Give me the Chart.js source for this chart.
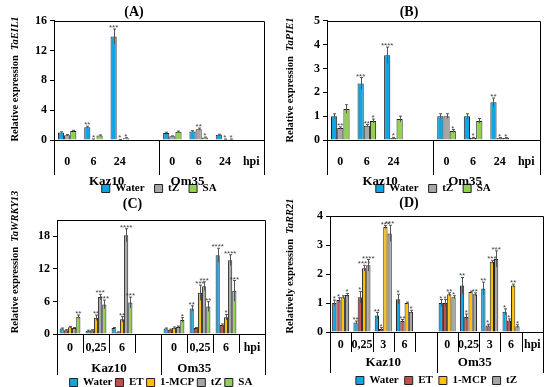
<!DOCTYPE html>
<html>
<head>
<meta charset="utf-8">
<script src="https://cdn.jsdelivr.net/npm/chart.js@4.4.0/dist/chart.umd.min.js"></script>
<style>
  html, body { margin: 0; padding: 0; background: #fff; overflow: hidden; }
  body { width: 550px; height: 387px; position: relative; }
  canvas { position: absolute; }
</style>
</head>
<body>
<canvas id="chartA" width="275" height="204" style="left:0;top:0"></canvas>
<canvas id="chartB" width="275" height="204" style="left:275px;top:0"></canvas>
<canvas id="chartC" width="275" height="208" style="left:0;top:190px"></canvas>
<canvas id="chartD" width="275" height="206" style="left:275px;top:190px"></canvas>
<script>
// ---- (A) TaEIL1 ----
const hpiA = ['0', '6', '24', '', '0', '6', '24', 'hpi'];
const waterA = [1.0, 1.7, 13.9, null, 0.95, 1.15, 0.7, null];
const tzA = [0.65, 0.1, 0.05, null, 0.5, 1.45, 0.1, null];
const saA = [1.2, 0.6, 0.25, null, 1.1, 0.35, 0.1, null];
const waterErrA = [0.1, 0.15, 1.0, null, 0.1, 0.1, 0.08, null];
const tzErrA = [0.08, 0.05, 0.03, null, 0.05, 0.15, 0.03, null];
const saErrA = [0.1, 0.08, 0.05, null, 0.1, 0.05, 0.03, null];
const waterSigA = ['', '**', '***', '', '', '', '', ''];
const tzSigA = ['', '*', '*', '', '', '**', '*', ''];
const saSigA = ['', '', '*', '', '', '*', '*', ''];

// ---- (B) TaPIE1 ----
const hpiB = ['0', '6', '24', '', '0', '6', '24', 'hpi'];
const waterB = [1.0, 2.37, 3.55, null, 1.0, 1.0, 1.58, null];
const tzB = [0.5, 0.6, 0.08, null, 1.0, 0.08, 0.08, null];
const saB = [1.3, 0.8, 0.88, null, 0.38, 0.8, 0.08, null];
const waterErrB = [0.1, 0.25, 0.35, null, 0.1, 0.1, 0.18, null];
const tzErrB = [0.05, 0.05, 0.03, null, 0.1, 0.03, 0.02, null];
const saErrB = [0.18, 0.08, 0.12, null, 0.06, 0.1, 0.02, null];
const waterSigB = ['', '***', '****', '', '', '', '**', ''];
const tzSigB = ['**', '**', '*', '', '', '*', '*', ''];
const saSigB = ['', '*', '', '', '*', '', '*', ''];

// ---- (C) TaWRKY13 ----
const hpiC = ['0', '0,25', '6', '', '0', '0,25', '6', 'hpi'];
const waterC = [1.0, 0.6, 1.1, null, 1.0, 4.7, 14.5, null];
const etC = [0.7, 0.7, 0.3, null, 0.8, 1.1, 1.65, null];
const mcpC = [1.25, 3.0, 2.7, null, 1.15, 7.6, 3.1, null];
const tzC = [1.1, 6.8, 18.2, null, 1.3, 8.8, 13.6, null];
const saC = [3.2, 5.45, 5.8, null, 2.6, 5.05, 7.95, null];
const waterErrC = [0.1, 0.1, 0.1, null, 0.1, 0.5, 1.3, null];
const etErrC = [0.1, 0.1, 0.1, null, 0.1, 0.1, 0.2, null];
const mcpErrC = [0.15, 0.5, 0.5, null, 0.15, 1.4, 0.5, null];
const tzErrC = [0.1, 0.5, 1.2, null, 0.15, 0.8, 1.0, null];
const saErrC = [0.3, 0.8, 1.0, null, 0.4, 0.9, 1.9, null];
const waterSigC = ['', '', '', '', '', '**', '****', ''];
const etSigC = ['', '', '', '', '', '', '', ''];
const mcpSigC = ['', '**', '**', '', '', '***', '*', ''];
const tzSigC = ['', '***', '****', '', '', '***', '****', ''];
const saSigC = ['**', '***', '***', '', '*', '**', '***', ''];

// ---- (D) TaRR21 ----
const hpiD = ['0', '0,25', '3', '6', '', '0', '0,25', '3', '6', 'hpi'];
const waterD = [1.0, 0.33, 0.57, 1.13, null, 1.0, 1.6, 1.5, 0.7, null];
const etD = [1.1, 1.2, 0.1, 0.38, null, 1.0, 0.52, 0.22, 0.4, null];
const mcpD = [1.2, 2.2, 3.62, 1.0, null, 1.3, 1.38, 2.42, 1.6, null];
const tzD = [1.28, 2.3, 3.4, 0.7, null, 1.2, 1.3, 2.52, 0.2, null];
const waterErrD = [0.1, 0.05, 0.1, 0.17, null, 0.12, 0.28, 0.22, 0.1, null];
const etErrD = [0.08, 0.2, 0.05, 0.05, null, 0.12, 0.1, 0.05, 0.05, null];
const mcpErrD = [0.05, 0.1, 0.05, 0.03, null, 0.05, 0.03, 0.05, 0.05, null];
const tzErrD = [0.05, 0.2, 0.28, 0.05, null, 0.05, 0.05, 0.28, 0.05, null];
const waterSigD = ['*', '**', '**', '*', '', '*', '**', '**', '*', ''];
const etSigD = ['*', '*', '*', '**', '', '*', '*', '*', '*', ''];
const mcpSigD = ['', '****', '***', '', '', '**', '', '***', '**', ''];
const tzSigD = ['*', '****', '***', '*', '', '*', '**', '***', '*', ''];

const groups = ['Kaz10', 'Om35'];

const COLORS = {
  Water: '#12a5e6',
  ET: '#c0504d',
  '1-MCP': '#ffc000',
  tZ: '#a6a6a6',
  SA: '#92d050'
};

Chart.defaults.font.family = '"Liberation Serif", "Times New Roman", serif';
Chart.defaults.color = '#000';

// error bars, stars, plot frame, group labels and y title
const decor = {
  id: 'decor',
  afterDatasetsDraw(chart) {
    const ctx = chart.ctx;
    const ys = chart.scales.y;
    ctx.save();
    chart.data.datasets.forEach((ds, i) => {
      const meta = chart.getDatasetMeta(i);
      meta.data.forEach((bar, j) => {
        const v = ds.data[j];
        if (v == null) return;
        const e = ds.errors[j] || 0;
        const yHi = ys.getPixelForValue(v + e);
        const yLo = ys.getPixelForValue(Math.max(v - e, 0));
        const x = Math.round(bar.x) + 0.5;
        ctx.strokeStyle = '#555';
        ctx.lineWidth = 1;
        ctx.beginPath();
        ctx.moveTo(x, yLo);
        ctx.lineTo(x, yHi);
        ctx.moveTo(x - 1.5, yHi);
        ctx.lineTo(x + 1.5, yHi);
        ctx.stroke();
        if (ds.sig[j]) {
          ctx.fillStyle = '#444';
          ctx.font = '8px "Liberation Sans"';
          ctx.textAlign = 'center';
          ctx.textBaseline = 'alphabetic';
          ctx.fillText(ds.sig[j], bar.x, yHi + 1);
        }
      });
    });
    ctx.restore();
  },
  afterDraw(chart, args, o) {
    const ctx = chart.ctx;
    const a = chart.chartArea;
    const xs = chart.scales.x;
    const n = xs.getLabels().length;
    const half = n / 2;
    const px = (v) => Math.round(v) + 0.5;
    const mid = (xs.getPixelForValue(half - 1) + xs.getPixelForValue(half)) / 2;
    ctx.save();
    ctx.strokeStyle = '#000';
    ctx.lineWidth = 1;
    ctx.beginPath();
    ctx.moveTo(px(a.left), px(a.top));
    ctx.lineTo(px(a.right), px(a.top));
    ctx.lineTo(px(a.right), a.bottom + o.ext);
    ctx.moveTo(px(a.left), a.bottom);
    ctx.lineTo(px(a.left), a.bottom + o.ext);
    ctx.moveTo(px(mid), a.bottom);
    ctx.lineTo(px(mid), a.bottom + o.ext);
    if (o.sep) {
      for (let i = 1; i < n; i++) {
        if (i === half) continue;
        const bx = (xs.getPixelForValue(i - 1) + xs.getPixelForValue(i)) / 2;
        ctx.moveTo(px(bx), a.bottom);
        ctx.lineTo(px(bx), a.bottom + o.sep);
      }
    }
    ctx.stroke();

    // group labels
    ctx.fillStyle = '#000';
    ctx.font = 'bold 13px "Liberation Serif"';
    ctx.textAlign = 'center';
    ctx.textBaseline = 'middle';
    ctx.fillText(groups[0], a.left + o.gx[0] * (mid - a.left), a.bottom + o.gy);
    ctx.fillText(groups[1], mid + o.gx[1] * (a.right - mid), a.bottom + o.gy);

    // y title with italic gene name
    const f1 = 'bold 10.5px "Liberation Serif"';
    const f2 = 'bold italic 10.5px "Liberation Serif"';
    ctx.font = f1;
    const w1 = ctx.measureText(o.yText).width;
    ctx.font = f2;
    const w2 = ctx.measureText(o.gene).width;
    ctx.translate(o.tx, o.ty);
    ctx.rotate(-Math.PI / 2);
    ctx.textAlign = 'left';
    let sx = -(w1 + w2) / 2;
    ctx.font = f1;
    ctx.fillText(o.yText, sx, 0);
    ctx.font = f2;
    ctx.fillText(o.gene, sx + w1, 0);
    ctx.restore();
  }
};

function makeChart(id, labels, series, p) {
  const datasets = series.map(s => ({
    label: s.name,
    data: s.data,
    errors: s.err,
    sig: s.sig,
    backgroundColor: COLORS[s.name],
    borderColor: '#222',
    borderWidth: 1,
    categoryPercentage: p.cp,
    barPercentage: 1.0
  }));
  return new Chart(document.getElementById(id), {
    type: 'bar',
    data: { labels: labels, datasets: datasets },
    plugins: [decor],
    options: {
      responsive: false,
      animation: false,
      layout: { padding: { left: 0, right: p.pr, top: 0, bottom: 0 } },
      scales: {
        x: {
          offset: true,
          grid: { display: false, drawTicks: false },
          border: { display: true, color: '#000', width: 1 },
          ticks: { autoSkip: false, maxRotation: 0, padding: p.tp,
                   font: { size: 12, weight: 'bold' }, color: '#000' },
          afterFit: (s) => { s.height = p.xh; }
        },
        y: {
          min: 0, max: p.ymax,
          ticks: { stepSize: p.step, padding: 3, font: { size: 12, weight: 'bold' }, color: '#000' },
          grid: { drawOnChartArea: false, drawTicks: true, tickLength: 4, color: '#000' },
          border: { display: true, color: '#000', width: 1 },
          afterFit: (s) => { s.width = p.yw; }
        }
      },
      plugins: {
        title: { display: true, text: p.title, font: { size: 14, weight: 'bold' },
                 color: '#000', padding: { top: p.ttop, bottom: p.tbot } },
        legend: {
          position: 'bottom', fullSize: false,
          labels: { boxWidth: 8, boxHeight: 8, padding: p.lp, color: '#000',
                    font: { size: 11, weight: 'bold' } }
        },
        tooltip: { enabled: false },
        decor: { ext: p.ext, sep: p.sep, gx: p.gx, gy: p.gy,
                 yText: p.yText, gene: p.gene, tx: p.tx, ty: p.ty }
      }
    }
  });
}

makeChart('chartA', hpiA, [
  { name: 'Water', data: waterA, err: waterErrA, sig: waterSigA },
  { name: 'tZ', data: tzA, err: tzErrA, sig: tzSigA },
  { name: 'SA', data: saA, err: saErrA, sig: saSigA }
], { cp: 0.7, pr: 7, tp: 15, xh: 33, lp: 10, ymax: 16, step: 4, yw: 54, title: '(A)', ttop: 4, tbot: 0,
     ext: 35, sep: 0, gx: [0.5, 0.27], gy: 42, yText: 'Relative expression  ', gene: 'TaEIL1', tx: 15, ty: 79 });

makeChart('chartB', hpiB, [
  { name: 'Water', data: waterB, err: waterErrB, sig: waterSigB },
  { name: 'tZ', data: tzB, err: tzErrB, sig: tzSigB },
  { name: 'SA', data: saB, err: saErrB, sig: saSigB }
], { cp: 0.7, pr: 7, tp: 15, xh: 33, lp: 10, ymax: 5, step: 1, yw: 52, title: '(B)', ttop: 4, tbot: 0,
     ext: 35, sep: 0, gx: [0.5, 0.3], gy: 42, yText: 'Relative expression  ', gene: 'TaPIE1', tx: 15, ty: 80 });

makeChart('chartC', hpiC, [
  { name: 'Water', data: waterC, err: waterErrC, sig: waterSigC },
  { name: 'ET', data: etC, err: etErrC, sig: etSigC },
  { name: '1-MCP', data: mcpC, err: mcpErrC, sig: mcpSigC },
  { name: 'tZ', data: tzC, err: tzErrC, sig: tzSigC },
  { name: 'SA', data: saC, err: saErrC, sig: saSigC }
], { cp: 0.8, pr: 10, tp: 7, xh: 40, lp: 3, ymax: 21, step: 3, yw: 57, title: '(C)', ttop: 6, tbot: 7.2,
     ext: 41, sep: 19, gx: [0.5, 0.32], gy: 35, yText: 'Relative expression  ', gene: 'TaWRKY13', tx: 15, ty: 72 });

makeChart('chartD', hpiD, [
  { name: 'Water', data: waterD, err: waterErrD, sig: waterSigD },
  { name: 'ET', data: etD, err: etErrD, sig: etSigD },
  { name: '1-MCP', data: mcpD, err: mcpErrD, sig: mcpSigD },
  { name: 'tZ', data: tzD, err: tzErrD, sig: tzSigD }
], { cp: 0.8, pr: 7, tp: 6, xh: 37, lp: 6, ymax: 4, step: 1, yw: 55, title: '(D)', ttop: 4.6, tbot: 4.6,
     ext: 41, sep: 20, gx: [0.5, 0.36], gy: 31, yText: 'Relatively expression  ', gene: 'TaRR21', tx: 15, ty: 76 });
</script>
</body>
</html>
